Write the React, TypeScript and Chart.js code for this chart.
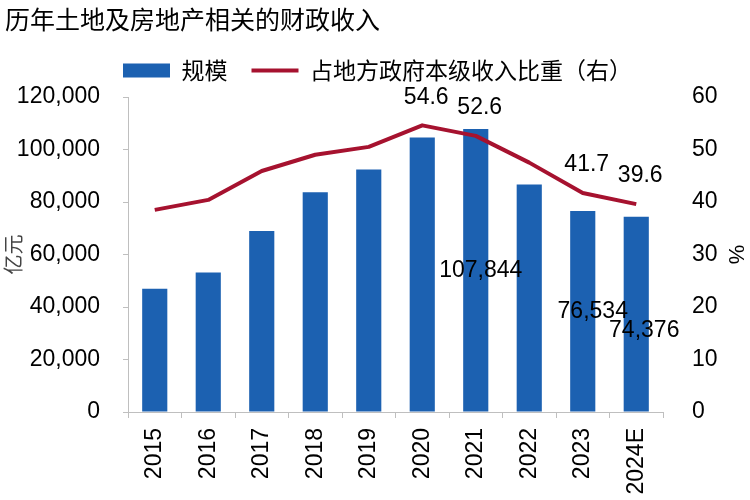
import React, { useEffect, useRef } from 'react';
import { Chart, registerables } from 'chart.js';

Chart.register(...registerables);

const chartTitle = '历年土地及房地产相关的财政收入';
const categories = ['2015', '2016', '2017', '2018', '2019', '2020', '2021', '2022', '2023', '2024E'];
const scaleValues = [47000, 53100, 69000, 83700, 92400, 104600, 107844, 86700, 76534, 74376];
const shareValues = [38.5, 40.4, 45.9, 49.0, 50.5, 54.6, 52.6, 47.5, 41.7, 39.6];
const seriesNames = ['规模', '占地方政府本级收入比重（右）'];
const leftAxisTitle = '亿元';
const rightAxisTitle = '%';
const barLabelIndices = [6, 8, 9];
const lineLabelIndices = [5, 6, 8, 9];
const barLabelShiftX = [5, 10, 8];
const barLabelShiftY = [0, 0, 17];

const NUM_FONT = "'Liberation Sans', Arial, 'Noto Sans CJK SC', sans-serif";
const CJK_FONT = "'Noto Sans CJK SC', 'Liberation Sans', sans-serif";
const BLUE = '#1C61B1';
const RED = '#A6122F';
const AXIS_GRAY = '#BFBFBF';

const fmt = (v: number) => Number(v).toLocaleString('en-US');

const legendSpacer = {
  id: 'legendSpacer',
  beforeInit(chart: any) {
    const legend = chart.legend;
    if (!legend || legend.__patched) return;
    const fit = legend.fit;
    legend.fit = function () {
      fit.call(this);
      this.height += 5;
    };
    legend.__patched = true;
  },
};

const valueLabels = {
  id: 'valueLabels',
  afterDatasetsDraw(chart: any) {
    const ctx = chart.ctx;
    ctx.save();
    ctx.font = `23px ${NUM_FONT}`;
    ctx.fillStyle = '#000';
    ctx.textAlign = 'center';
    ctx.textBaseline = 'middle';
    const barMeta = chart.getDatasetMeta(0);
    barLabelIndices.forEach((i, k) => {
      const el = barMeta.data[i];
      const p = el.getProps(['x', 'y', 'base'], true);
      ctx.fillText(fmt(scaleValues[i]), p.x + barLabelShiftX[k], (p.y + p.base) / 2 + barLabelShiftY[k]);
    });
    const lineMeta = chart.getDatasetMeta(1);
    lineLabelIndices.forEach((i) => {
      const el = lineMeta.data[i];
      ctx.fillText(shareValues[i].toFixed(1), el.x + 4, el.y - 28);
    });
    ctx.restore();
  },
};

export default function App() {
  const canvasRef = useRef<HTMLCanvasElement | null>(null);

  useEffect(() => {
    document.body.style.margin = '0';
    const canvas = canvasRef.current;
    if (!canvas) return;
    const chart = new Chart(canvas, {
      type: 'bar',
      data: {
        labels: categories,
        datasets: [
          {
            type: 'bar',
            label: seriesNames[0],
            data: scaleValues,
            backgroundColor: BLUE,
            borderWidth: 0,
            yAxisID: 'y',
            order: 2,
            barPercentage: 0.47,
            categoryPercentage: 1.0,
          } as any,
          {
            type: 'line',
            label: seriesNames[1],
            data: shareValues,
            borderColor: RED,
            backgroundColor: RED,
            borderWidth: 4,
            borderJoinStyle: 'round',
            pointRadius: 0,
            tension: 0,
            yAxisID: 'y1',
            order: 1,
          } as any,
        ],
      },
      options: {
        animation: false,
        responsive: true,
        maintainAspectRatio: false,
        devicePixelRatio: 1,
        layout: { padding: { left: 5, top: 0, right: 0, bottom: 0 } },
        plugins: {
          title: {
            display: true,
            text: chartTitle,
            align: 'start',
            color: '#000',
            font: { family: CJK_FONT, size: 25, weight: 'normal', lineHeight: 1.2 },
            padding: { top: 4, bottom: 1 },
          },
          legend: {
            display: true,
            position: 'top',
            align: 'center',
            labels: {
              usePointStyle: true,
              pointStyleWidth: 47,
              boxHeight: 14,
              padding: 24,
              color: '#000',
              font: { family: CJK_FONT, size: 23 },
              sort: (a: any, b: any) => a.datasetIndex - b.datasetIndex,
              generateLabels: (c: any) =>
                (Chart.defaults.plugins.legend.labels as any).generateLabels(c).map((l: any) => ({
                  ...l,
                  pointStyle: l.datasetIndex === 0 ? 'rect' : 'line',
                  lineWidth: l.datasetIndex === 0 ? 0 : 4,
                })),
            },
          },
          tooltip: { enabled: false },
        },
        scales: {
          x: {
            grid: {
              display: true,
              drawOnChartArea: false,
              drawTicks: true,
              tickLength: 6,
              color: AXIS_GRAY,
              offset: true,
            },
            border: { display: true, color: AXIS_GRAY },
            ticks: {
              autoSkip: false,
              minRotation: 90,
              maxRotation: 90,
              padding: 10,
              color: '#000',
              font: { family: NUM_FONT, size: 23 },
            },
            afterFit: (s: any) => {
              s.height = 88;
            },
          },
          y: {
            position: 'left',
            min: 0,
            max: 120000,
            ticks: {
              stepSize: 20000,
              padding: 23,
              color: '#000',
              font: { family: NUM_FONT, size: 23 },
              callback: (v: any) => fmt(v),
            },
            grid: {
              display: true,
              drawOnChartArea: false,
              drawTicks: true,
              tickLength: 5,
              color: AXIS_GRAY,
            },
            border: { display: true, color: AXIS_GRAY },
            title: {
              display: true,
              text: leftAxisTitle,
              color: '#444',
              font: { family: CJK_FONT, size: 20, lineHeight: 1 },
              padding: { top: -2, bottom: 0 },
            },
            afterFit: (s: any) => {
              s.width = 123;
            },
          },
          y1: {
            position: 'right',
            min: 0,
            max: 60,
            ticks: {
              stepSize: 10,
              padding: 29,
              color: '#000',
              font: { family: NUM_FONT, size: 23 },
            },
            grid: { display: false, drawOnChartArea: false, drawTicks: false },
            border: { display: false },
            title: {
              display: true,
              text: rightAxisTitle,
              color: '#000',
              font: { family: NUM_FONT, size: 22, lineHeight: 1.2 },
              padding: { top: 2, bottom: 0 },
            },
            afterFit: (s: any) => {
              s.width = 87;
            },
          },
        },
      } as any,
      plugins: [legendSpacer, valueLabels],
    });
    return () => chart.destroy();
  }, []);

  return (
    <div style={{ width: 750, height: 500, position: 'relative' }}>
      <canvas ref={canvasRef} />
    </div>
  );
}
